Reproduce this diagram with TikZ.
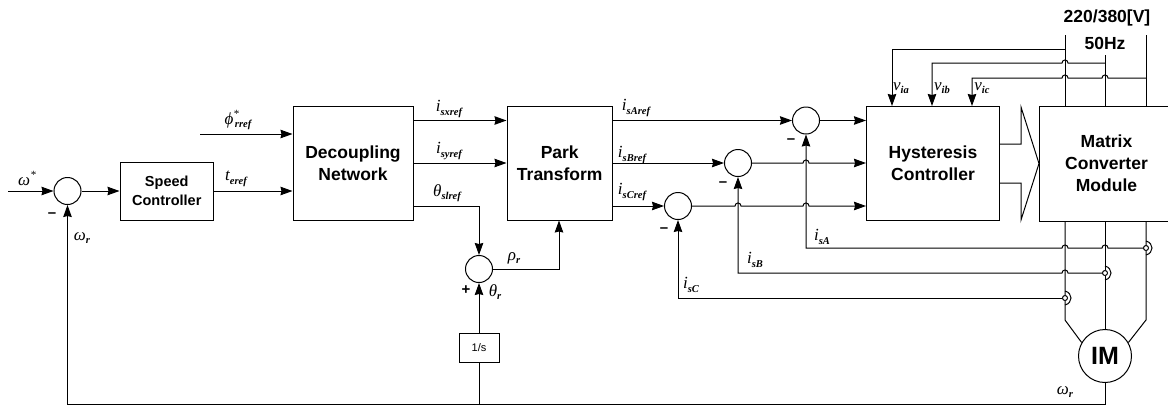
\documentclass[tikz,border=0pt]{standalone}
\usepackage{fontspec}
\setmainfont{Liberation Sans}
\newfontfamily\labfont{Liberation Serif}
\usetikzlibrary{
  arrows.meta,
  positioning,
  calc
}
\newcommand{\hopleft}[2]{-- (#1+3,#2) .. controls +(0,-4) and +(0,-4) .. (#1-3,#2)}
\newcommand{\subtxt}[1]{\raisebox{-3.5pt}{\fontsize{10.5}{10.5}\selectfont\bfseries\itshape #1}}
\newcommand{\suptxt}[1]{\raisebox{7pt}{\fontsize{11}{11}\selectfont #1}}
\tikzset{
  block/.style={
    draw, minimum height=114pt, font=\fontsize{17.5}{22}\selectfont\bfseries, align=center,
    inner sep=0pt
  },
  smallblock/.style={block, font=\fontsize{14.5}{19}\selectfont\bfseries},
  sumjunc/.style={draw, circle, minimum size=27pt, inner sep=0pt},
  motor/.style={draw, circle, minimum size=53pt, inner sep=0pt, font=\fontsize{25}{25}\selectfont\bfseries},
  sensorring/.style={draw, circle, minimum size=5pt, inner sep=0pt},
  sig/.style={-{Stealth[length=12pt,width=8.5pt,inset=1pt]}},
  sigback/.style={{Stealth[length=12pt,width=8.5pt,inset=1pt]}-},
  lab/.style={font=\fontsize{17}{17}\labfont\itshape, inner sep=0pt},
  minus/.style={font=\fontsize{15}{15}\selectfont\bfseries, inner sep=0pt},
  toplab/.style={font=\fontsize{17.5}{17.5}\selectfont\bfseries, inner sep=0pt}
}
\begin{document}
\begin{tikzpicture}[x=1pt, y=-1pt, line width=1pt]
  \useasboundingbox (0,0) rectangle (1168,408);
  % blocks
  \node[sumjunc] (sumw) at (67.5,191) {};
  \node[smallblock, minimum width=93.5pt, minimum height=58pt, right=38pt of sumw] (speed) {Speed\\Controller};
  \node[block, minimum width=120pt] (dcp) at (353,163) {Decoupling\\Network};
  \node[block, minimum width=105.5pt, right=93pt of dcp] (park) {Park\\Transform};
  \node[block, minimum width=133pt, right=253pt of park] (hyst) {Hysteresis\\Controller};
  \node[block, draw=none, minimum width=134pt, anchor=west] (matx) at (1039,163.5) {Matrix\\Converter\\Module};
  \draw (matx.north east) -- (matx.north west) -- (matx.south west) -- (matx.south east);
  \node[sumjunc] (sumth) at (479,269) {};
  \node[draw, minimum width=40pt, minimum height=29pt, inner sep=0pt, font=\fontsize{11}{11}\selectfont] (integ) at (479,348) {1/s};
  \node[sumjunc] (sumC) at (678,206) {};
  \node[sumjunc] (sumB) at (738,163) {};
  \node[sumjunc] (sumA) at (806,120.5) {};
  \node[motor] (im) at (1105,356) {IM};
  \node[sensorring] (senA) at (1146,248) {};
  \node[sensorring] (senB) at (1105,273) {};
  \node[sensorring] (senC) at (1065,298) {};
  \foreach \n in {senA,senB,senC}
    \draw ($(\n)+(0,-7)$) .. controls +(8,2) and +(8,-2) .. +(0,14);
  % free ends and corners
  \coordinate (wstart) at (8,191);
  \coordinate (phistart) at (200,134);
  \coordinate (phA) at (1065,35);
  \coordinate (phB) at (1105,55);
  \coordinate (phC) at (1146,35);
  \coordinate (inA) at (892,106);
  \coordinate (inB) at (932,106);
  \coordinate (inC) at (972,106);
  \coordinate (kinkA) at (1065,320);
  \coordinate (kinkC) at (1146,320);
  \coordinate (fbcorner) at (1105,404);
  % forward path
  \draw[sig] (wstart) -- (sumw);
  \draw[sig] (sumw) -- (speed);
  \draw[sig] (speed.east) -- (speed.east -| dcp.west);
  \draw[sig] (phistart) -- (phistart -| dcp.west);
  \draw[sig] (dcp.east |- sumA) -- (park.west |- sumA);
  \draw[sig] (dcp.east |- sumB) -- (park.west |- sumB);
  \draw[sig] (dcp.east |- sumC) -| (sumth.north);
  \draw[sig] (sumth.east) -| (park.south -| 559,0);
  \draw[sig] (integ.north) -- (sumth.south);
  \draw (integ.south) -- (integ.south |- fbcorner);
  \draw[sig] (park.east |- sumA) -- (sumA.west);
  \draw[sig] (park.east |- sumB) -- (sumB.west);
  \draw[sig] (park.east |- sumC) -- (sumC.west);
  \draw[sig] (sumA.east) -- (hyst.west |- sumA);
  \draw[sigback] (hyst.west |- sumB) \hopleft{806}{163} -- (sumB.east);
  \draw[sigback] (hyst.west |- sumC) \hopleft{806}{206} \hopleft{738}{206} -- (sumC.east);
  % wide arrow
  \draw (999,144) -- (1021,144) -- (1021,107) -- (1039,163.5) -- (1021,220) -- (1021,183) -- (999,183);
  % mains and voltage sensing
  \draw (phA) -- (phA |- matx.north);
  \draw (phB) -- (phB |- matx.north);
  \draw (phC) -- (phC |- matx.north);
  \draw[sig] (1065,49) -| (inA);
  \draw[sig] (1105,63) \hopleft{1065}{63} -| (inB);
  \draw[sig] (1146,78) \hopleft{1105}{78} \hopleft{1065}{78} -| (inC);
  % motor feed
  \draw (phA |- matx.south) -- (senC) -- (kinkA) -- (im.150);
  \draw (phB |- matx.south) -- (senB) -- (im.north);
  \draw (phC |- matx.south) -- (senA) -- (kinkC) -- (im.30);
  % current feedback
  \draw[sig] (senA) \hopleft{1105}{248} \hopleft{1065}{248} -| (sumA.south);
  \draw[sig] (senB) \hopleft{1065}{273} -| (sumB.south);
  \draw[sig] (senC) -| (sumC.south);
  % speed feedback
  \draw[sig] (im.south) -- (fbcorner) -| (sumw.south);
  % labels
  \node[lab] at (27,178) {ω\suptxt{*}};
  \node[minus] at (52,215) {--};
  \node[lab] at (82,238) {ω\subtxt{r}};
  \node[lab] at (238,120) {ϕ\suptxt{*}\hspace{-4pt}\subtxt{rref}};
  \node[lab] at (236,179) {t\subtxt{eref}};
  \node[lab] at (449,109) {i\subtxt{sxref}};
  \node[lab] at (449,151) {i\subtxt{syref}};
  \node[lab] at (447,193) {θ\subtxt{slref}};
  \node[lab] at (636,108) {i\subtxt{sAref}};
  \node[lab] at (632,155) {i\subtxt{sBref}};
  \node[lab] at (632,192) {i\subtxt{sCref}};
  \node[lab] at (514,258) {ρ\subtxt{r}};
  \node[minus] at (466,290) {+};
  \node[lab] at (495,292) {θ\subtxt{r}};
  \node[lab] at (691,285) {i\subtxt{sC}};
  \node[lab] at (755,260) {i\subtxt{sB}};
  \node[lab] at (822,237) {i\subtxt{sA}};
  \node[lab] at (1065,392) {ω\subtxt{r}};
  \node[minus] at (664,230) {--};
  \node[minus] at (723,184) {--};
  \node[minus] at (791,141) {--};
  \node[lab] at (901,88) {v\subtxt{ia}};
  \node[lab] at (942,88) {v\subtxt{ib}};
  \node[lab] at (982,88) {v\subtxt{ic}};
  \node[toplab] at (1107,18) {220/380[V]};
  \node[toplab] at (1105,43) {50Hz};
\end{tikzpicture}
\end{document}
